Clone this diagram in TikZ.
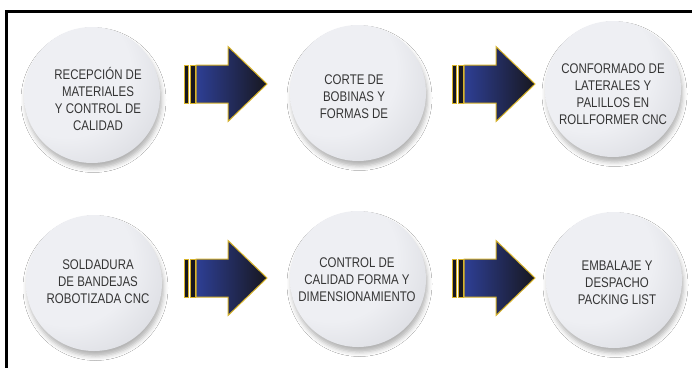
\documentclass[tikz,border=0pt]{standalone}
\usepackage{fontspec}
\setmainfont{Liberation Sans}[FakeStretch=0.82]
\usetikzlibrary{shadows.blur}
\definecolor{circA}{HTML}{EEEFF3}
\definecolor{circB}{HTML}{C4C6CD}
\definecolor{arrBlue}{HTML}{2E3F95}
\definecolor{arrDark}{HTML}{17171F}
\definecolor{arrGold}{HTML}{D8B42A}
\definecolor{txtgray}{HTML}{353535}
\pgfdeclareradialshading{discshade}{\pgfpoint{-14bp}{12bp}}{color(0bp)=(circA); color(24bp)=(circA); color(56bp)=(circB); color(80bp)=(circB)}
\tikzset{
  stepdisc/.style={circle, minimum size=136pt, inner sep=0pt, shading=discshade,
    blur shadow={shadow xshift=1.5pt, shadow yshift=-5pt, shadow blur radius=4.5pt, shadow opacity=30}},
  steptext/.style={text=txtgray, font=\fontsize{14pt}{17pt}\selectfont, align=center, inner sep=0pt},
  arrstripe/.style={fill=arrDark, draw=arrGold, line width=0.7pt},
  arrbody/.style={left color=arrBlue, right color=arrDark, draw=arrGold, line width=1pt, line join=miter},
  frameline/.style={line width=3pt, line join=miter}
}
\newcommand\flowarrow[2]{%
  \begin{scope}[shift={(#1,#2)}]
    \filldraw[arrstripe] (0,-19) rectangle (4.5,19);
    \filldraw[arrstripe] (6,-19) rectangle (11,19);
    \shadedraw[arrbody] (12,-19) -- (44,-19) -- (44,-37.5) -- (83,0) -- (44,37.5) -- (44,19) -- (12,19) -- cycle;
  \end{scope}}
\begin{document}
\begin{tikzpicture}[x=1pt,y=-1pt]
  \fill[white] (0,0) rectangle (692,367);
  \useasboundingbox (0,0) rectangle (692,367);
  \draw[frameline] (6.5,370) -- (6.5,11.5) -- (695,11.5);
  % discs
  \node[stepdisc] (c1) at (92,95) {};
  \node[stepdisc] (c2) at (358,93) {};
  \node[stepdisc] (c3) at (613,89) {};
  \node[stepdisc] (c4) at (94,283) {};
  \node[stepdisc] (c5) at (358,279) {};
  \node[stepdisc] (c6) at (614,280) {};
  % texts
  \node[steptext] (t1) at (98,99) {RECEPCIÓN DE\\MATERIALES\\Y CONTROL DE\\CALIDAD};
  \node[steptext] (t2) at (354,97) {CORTE DE\\BOBINAS Y\\FORMAS DE};
  \node[steptext] (t3) at (613,94) {CONFORMADO DE\\LATERALES Y\\PALILLOS EN\\ROLLFORMER CNC};
  \node[steptext] (t4) at (98,282) {SOLDADURA\\DE BANDEJAS\\ROBOTIZADA CNC};
  \node[steptext] (t5) at (357,280) {CONTROL DE\\CALIDAD FORMA Y\\DIMENSIONAMIENTO};
  \node[steptext] (t6) at (617,283) {EMBALAJE Y\\DESPACHO\\PACKING LIST};
  % arrows
  \flowarrow{184}{84}
  \flowarrow{452}{84}
  \flowarrow{184}{278}
  \flowarrow{452}{278}
\end{tikzpicture}
\end{document}
